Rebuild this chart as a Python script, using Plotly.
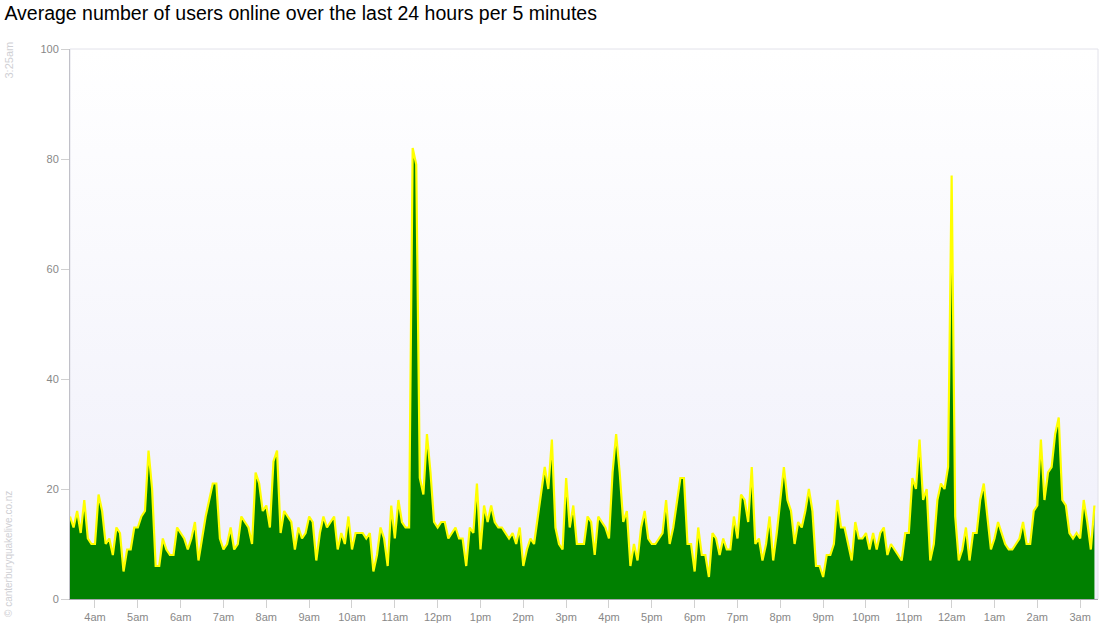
import base64
import pandas as pd
import plotly.graph_objects as go

# ---- data ----
start_time = "2011-01-01 03:25"
interval = "5min"

users_0325_0605 = [15, 13, 16, 12, 18, 11, 10, 10, 19, 16, 10, 11, 8, 13, 12, 5, 9, 9, 13, 13,
                   15, 16, 27, 20, 6, 6, 11, 9, 8, 8, 13, 12, 11, 9, 11, 14, 7]
users_0610_0905 = [11, 15, 18, 21, 21, 11, 9, 10, 13, 9, 10, 15, 14, 13, 10, 23, 21, 16, 17,
                   13, 25, 27, 12, 16, 15, 14, 9, 13, 11, 12, 15, 14, 7, 12, 15, 13]
users_0910_1100 = [14, 15, 9, 12, 10, 15, 9, 12, 12, 12, 11, 12, 5, 8, 13, 11, 6, 17, 11, 18,
                   14, 13, 13]
users_1105_1210 = [82, 79, 22, 19, 30, 23, 14, 13, 14, 14, 11, 12, 13, 11]
users_1215_1510 = [11, 6, 13, 12, 21, 9, 17, 14, 17, 14, 13, 13, 12, 11, 12, 10, 13, 6, 9, 11,
                   10, 15, 20, 24, 20, 29, 13, 10, 9, 22, 13, 17, 10, 10, 10, 15]
users_1515_1815 = [14, 8, 15, 14, 13, 11, 23, 30, 23, 14, 16, 6, 10, 7, 13, 16, 11, 10, 10, 11,
                   12, 18, 10, 13, 18, 22, 22, 10, 10, 5, 13, 8, 8, 4, 12, 11, 8]
users_1820_2110 = [11, 9, 9, 15, 11, 19, 18, 14, 24, 10, 11, 7, 10, 15, 7, 12, 18, 24, 18, 16,
                   10, 14, 13, 16, 20, 16, 6, 6, 4, 8, 8, 10, 18, 13, 13, 10]
users_2115_0000 = [7, 14, 11, 11, 12, 9, 12, 9, 12, 13, 8, 10, 9, 8, 7, 12, 12, 22, 20, 29,
                   18, 20, 7, 10, 18, 21, 20, 24, 77]
users_0005_0320 = [15, 7, 9, 13, 7, 12, 12, 18, 21, 15, 9, 11, 14, 12, 10, 9, 9, 10, 11, 14,
                   10, 10, 16, 17, 29, 18, 23, 24, 30, 33, 18, 17, 12, 11, 12, 11, 18, 14, 9, 17]

tick_labels = ["4am", "5am", "6am", "7am", "8am", "9am", "10am", "11am", "12pm", "1pm", "2pm",
               "3pm", "4pm", "5pm", "6pm", "7pm", "8pm", "9pm", "10pm", "11pm", "12am", "1am",
               "2am", "3am"]
first_tick = "2011-01-01 04:00"
y_ticks = [0, 20, 40, 60, 80, 100]

title_text = "Average number of users online over the last 24 hours per 5 minutes"
time_label = "3:25am"
credit = "© canterburyquakelive.co.nz"

# ---- build ----
users = (users_0325_0605 + users_0610_0905 + users_0910_1100 + users_1105_1210 +
         users_1215_1510 + users_1515_1815 + users_1820_2110 + users_2115_0000 +
         users_0005_0320)
times = pd.date_range(start_time, periods=len(users), freq=interval)
tick_times = pd.date_range(first_tick, periods=len(tick_labels), freq="1h")
x_end = pd.Timestamp(start_time) + pd.Timedelta(hours=24)

fig = go.Figure()
fig.add_trace(go.Scatter(
    x=times, y=users, mode="lines",
    fill="tozeroy", fillcolor="#008000",
    line=dict(color="#ffff00", width=2.2),
    hoverinfo="skip", showlegend=False,
))

font_family = "Liberation Sans, Arial, sans-serif"

# vertical background gradient for the plot area (white at top -> pale lavender at bottom)
svg = ('<svg xmlns="http://www.w3.org/2000/svg" width="10" height="100" preserveAspectRatio="none">'
       '<defs><linearGradient id="g" x1="0" y1="0" x2="0" y2="1">'
       '<stop offset="0" stop-color="#ffffff"/><stop offset="1" stop-color="#efeffa"/>'
       '</linearGradient></defs><rect width="10" height="100" fill="url(#g)"/></svg>')
bg_src = "data:image/svg+xml;base64," + base64.b64encode(svg.encode()).decode()

fig.update_layout(
    width=1100, height=640,
    margin=dict(l=70, r=2, t=49, b=41),
    paper_bgcolor="#ffffff",
    plot_bgcolor="#f7f7fd",
    font=dict(family=font_family, color="#888888", size=11),
    title=dict(text=title_text, x=0.004, xanchor="left", xref="container",
               y=0.979, yanchor="middle", yref="container",
               font=dict(family=font_family, size=19.5, color="#000000")),
    showlegend=False,
    images=[dict(source=bg_src, xref="paper", yref="paper", x=0, y=1, sizex=1, sizey=1,
                 xanchor="left", yanchor="top", sizing="stretch", layer="below")],
)
fig.update_xaxes(
    type="date", range=[times[0], x_end],
    tickvals=tick_times, ticktext=tick_labels,
    ticks="outside", ticklen=8, tickcolor="#d0d0d0", tickwidth=1,
    showgrid=False, zeroline=False,
    showline=True, linecolor="#a8a8b0", linewidth=1,
    tickfont=dict(size=11, color="#888888"),
)
fig.update_yaxes(
    range=[0, 100], tickvals=y_ticks,
    ticks="outside", ticklen=8, tickcolor="#d0d0d0", tickwidth=1,
    showgrid=False, zeroline=False,
    showline=True, linecolor="#c0c0c8", linewidth=1,
    tickfont=dict(size=11, color="#888888"),
)
fig.add_shape(type="rect", xref="paper", yref="paper", x0=0, x1=1, y0=0, y1=1,
              line=dict(color="#e2e2ea", width=1), layer="below")

fig.add_annotation(text=time_label, textangle=-90, xref="paper", yref="paper",
                   x=-62 / 1028, y=1 + 9 / 550, xanchor="center", yanchor="top",
                   showarrow=False, font=dict(size=11, color="#cfcfd4", family=font_family))
fig.add_annotation(text=credit, textangle=-90, xref="paper", yref="paper",
                   x=-62 / 1028, y=-20 / 550, xanchor="center", yanchor="bottom",
                   showarrow=False, font=dict(size=10, color="#cfcfd4", family=font_family))

fig.write_html("out.html", config={"displayModeBar": False},
               post_script="document.body.style.margin='0';document.body.style.overflow='hidden';")
